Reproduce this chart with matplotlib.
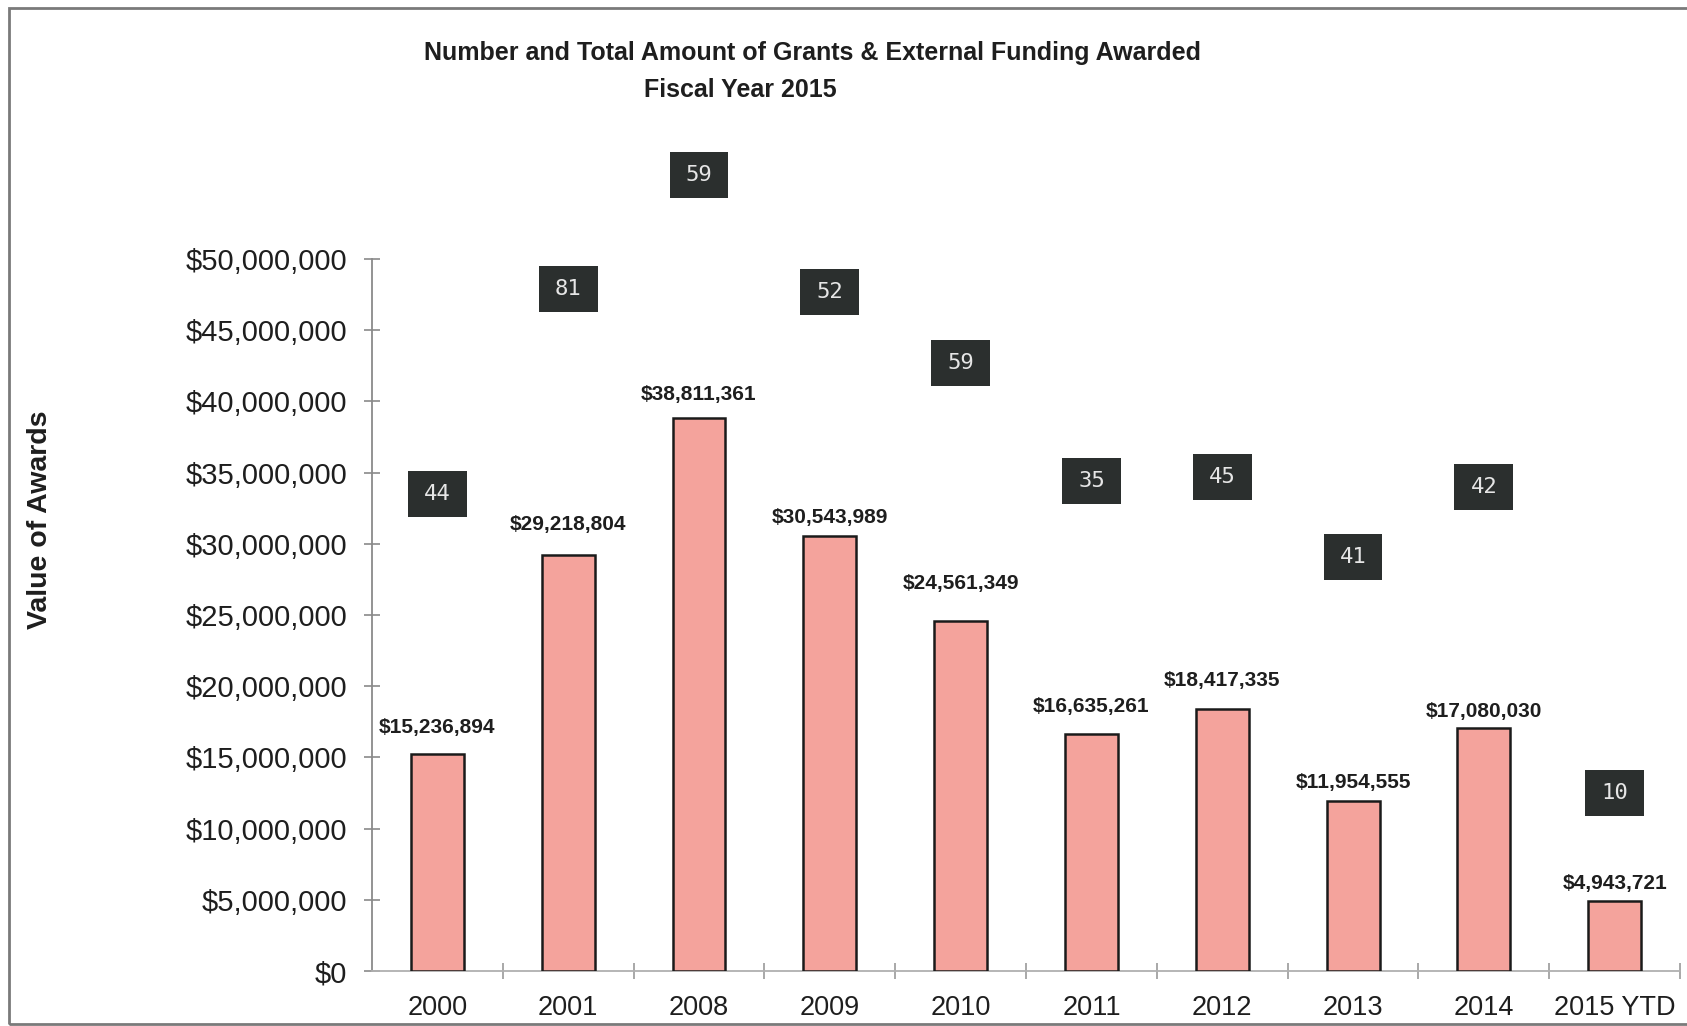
import numpy as np
import matplotlib
matplotlib.use('Agg')
import matplotlib.pyplot as plt
from matplotlib.patches import Rectangle
from matplotlib.ticker import FuncFormatter, MultipleLocator

plt.rcParams['font.family'] = ['Liberation Sans', 'DejaVu Sans']

# data
years = ['2000', '2001', '2008', '2009', '2010', '2011', '2012', '2013', '2014', '2015 YTD']
award_value = [15236894, 29218804, 38811361, 30543989, 24561349,
               16635261, 18417335, 11954555, 17080030, 4943721]
award_count = [44, 81, 59, 52, 59, 35, 45, 41, 42, 10]

# where the count boxes sit (in $ on the value axis) and label offsets (pt)
count_box_y = [33.5e6, 47.9e6, 55.9e6, 47.7e6, 42.7e6, 34.4e6, 34.7e6, 29.1e6, 34.0e6, 12.5e6]
value_label_off = [19, 22, 17, 13, 27, 20, 20, 13, 12, 12]

bar_color = '#f4a39c'
box_color = '#2b2f2e'
text_color = '#1e1e1e'
axis_color = '#8a8a8a'

fig = plt.figure(figsize=(16.87, 10.26), dpi=100)
ax = fig.add_axes([0.2205, 0.0536, 0.7754, 0.694])

x = np.arange(len(years))
ax.bar(x, award_value, width=0.405, color=bar_color, edgecolor='#1a1a1a', linewidth=1.8, zorder=3)

# value labels over the bars
for xi, v, off in zip(x, award_value, value_label_off):
    ax.annotate('${:,.0f}'.format(v), (xi, v), xytext=(0, off), textcoords='offset points',
                ha='center', va='center', fontsize=15, fontweight='bold', color=text_color)

# dark count boxes
bw, bh = 0.45, 3.23e6
for xi, n, yb in zip(x, award_count, count_box_y):
    ax.add_patch(Rectangle((xi - bw / 2, yb - bh / 2), bw, bh, facecolor=box_color,
                           edgecolor='none', clip_on=False, zorder=4))
    ax.text(xi, yb, str(n), ha='center', va='center', fontsize=16, color='#e6e6e6',
            family='DejaVu Sans Mono', zorder=5, clip_on=False)

ax.set_xlim(-0.5, len(years) - 0.5)
ax.set_ylim(0, 50e6)
ax.yaxis.set_major_locator(MultipleLocator(5e6))
ax.yaxis.set_major_formatter(FuncFormatter(lambda v, p: '${:,.0f}'.format(v)))

ax.set_xticks(x)
ax.set_xticklabels(years)
ax.set_xticks(np.arange(0.5, len(years)), minor=True)

for s in ['top', 'right']:
    ax.spines[s].set_visible(False)
for s in ['left', 'bottom']:
    ax.spines[s].set_color(axis_color)
    ax.spines[s].set_linewidth(1.3)
ax.spines['bottom'].set_color('#b0b0b0')

ax.tick_params(axis='y', direction='inout', length=12, width=1.2, color=axis_color,
               labelsize=21, labelcolor=text_color, pad=12)
ax.tick_params(axis='x', which='major', length=0, labelsize=19.5, labelcolor=text_color, pad=17)
ax.tick_params(axis='x', which='minor', direction='inout', length=12, width=1.2, color='#9a9a9a')

fig.text(0.0237, 0.493, 'Value of Awards', rotation=90, ha='center', va='center',
         fontsize=20.5, fontweight='bold', color=text_color)

fig.text(813 / 1687, 1 - 52.7 / 1026, 'Number and Total Amount of Grants & External Funding Awarded',
         ha='center', va='center', fontsize=18, fontweight='bold', color=text_color)
fig.text(740 / 1687, 1 - 90.4 / 1026, 'Fiscal Year 2015',
         ha='center', va='center', fontsize=18, fontweight='bold', color=text_color)

# page frame from the scan
fig.add_artist(Rectangle((9 / 1687, 2 / 1026), 1.1, 1 - 10 / 1026, transform=fig.transFigure,
                         fill=False, edgecolor='#7a7a7a', linewidth=2))

fig.savefig('out.png', dpi=100)
